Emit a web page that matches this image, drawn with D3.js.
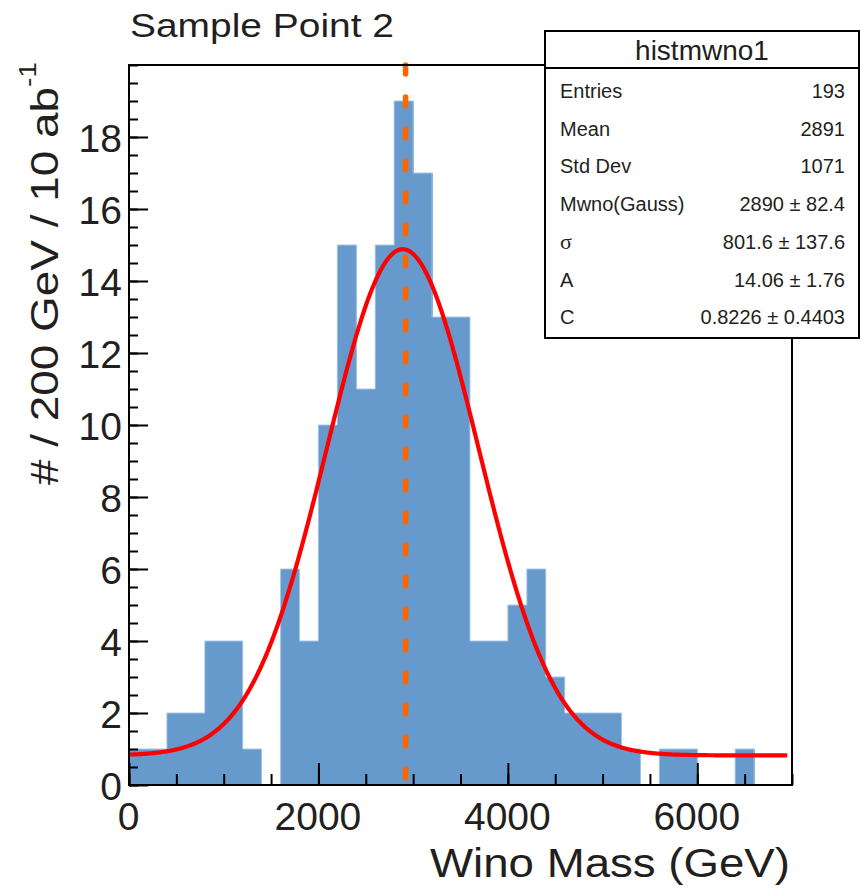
<!DOCTYPE html>
<html>
<head>
<meta charset="utf-8">
<script src="https://cdn.jsdelivr.net/npm/d3@7"></script>
<style>
  html, body { margin: 0; padding: 0; background: #fff; }
  svg { display: block; font-family: "Liberation Sans", Arial, Helvetica, sans-serif; }
</style>
</head>
<body>
<svg id="chart" width="861" height="891"></svg>
<script>
// ---------------- data ----------------
const binWidth = 200;
const binLow = d3.range(0, 7000, binWidth);
const counts = [1, 1, 2, 2, 4, 4, 1, 0, 6, 4,
                10, 15, 11, 15, 19, 17, 13, 13, 4, 4,
                5, 6, 3, 2, 2, 2, 1, 0, 1, 1,
                0, 0, 1, 0, 0];
// Gaussian + constant fit, parameters from the stats box
const fitMean = 2890, fitSigma = 801.6, fitA = 14.06, fitC = 0.8226;
// position of the orange dashed marker line
const markerX = 2920;
const xMajorTicks = [0, 2000, 4000, 6000];
const yMajorTicks = [0, 2, 4, 6, 8, 10, 12, 14, 16, 18];
const statLabels = ["Entries", "Mean", "Std Dev", "Mwno(Gauss)", "\u03c3", "A", "C"];
const statValues = ["193", "2891", "1071", "2890 \u00b1 82.4", "801.6 \u00b1 137.6", "14.06 \u00b1 1.76", "0.8226 \u00b1 0.4403"];
const histName = "histmwno1";
const titleText = "Sample Point 2";
const xTitle = "Wino Mass (GeV)";
const yTitle = "# / 200 GeV / 10 ab";
const yTitleSup = "-1";

// ---------------- layout ----------------
const svg = d3.select("#chart");
const L = 129, R = 792, T = 65, B = 785;
const x = d3.scaleLinear().domain([0, 7000]).range([L, R]);
const y = d3.scaleLinear().domain([0, 20]).range([B, T]);

// bars (filled, no seams)
const bins = binLow.map((lo, i) => ({lo, hi: lo + binWidth, n: counts[i]}));
svg.append("g").selectAll("rect").data(bins.filter(d => d.n > 0)).join("rect")
  .attr("x", d => x(d.lo))
  .attr("y", d => y(d.n))
  .attr("width", d => x(d.hi) - x(d.lo) + 0.5)
  .attr("height", d => y(0) - y(d.n))
  .attr("fill", "#6699cc")
  .attr("shape-rendering", "crispEdges");

// light outline of histogram (step path)
const stepPts = [];
bins.forEach(d => { stepPts.push([d.lo, d.n]); stepPts.push([d.hi, d.n]); });
svg.append("path")
  .datum(stepPts)
  .attr("d", d3.line().x(d => x(d[0])).y(d => y(d[1])))
  .attr("fill", "none")
  .attr("stroke", "#a9c6e4")
  .attr("stroke-width", 1);

// fit curve
const fitX = d3.range(0, 6955, 10);
const fitFn = v => fitA * Math.exp(-0.5 * Math.pow((v - fitMean) / fitSigma, 2)) + fitC;
svg.append("path")
  .datum(fitX)
  .attr("d", d3.line().x(d => x(d)).y(d => y(fitFn(d))))
  .attr("fill", "none")
  .attr("stroke", "#ff0000")
  .attr("stroke-width", 4.2);

// dashed marker line
svg.append("line")
  .attr("x1", x(markerX)).attr("x2", x(markerX))
  .attr("y1", y(20)).attr("y2", y(0))
  .attr("stroke", "#ff6600")
  .attr("stroke-width", 5.5)
  .attr("stroke-linecap", "round")
  .attr("stroke-dasharray", "9 23");

// axes ticks
const axStyle = g => {
  g.select(".domain").remove();
  g.selectAll("line").attr("stroke", "#000").attr("stroke-width", 2);
};
svg.append("g").attr("transform", `translate(0,${B})`)
  .call(d3.axisTop(x).tickValues(d3.range(0, 7001, 500)).tickSize(11).tickFormat(""))
  .call(axStyle);
svg.append("g").attr("transform", `translate(0,${B})`)
  .call(d3.axisTop(x).tickValues(xMajorTicks).tickSize(22).tickFormat(""))
  .call(axStyle);
svg.append("g").attr("transform", `translate(${L},0)`)
  .call(d3.axisRight(y).tickValues(d3.range(0, 20.01, 0.5)).tickSize(9).tickFormat(""))
  .call(axStyle);
svg.append("g").attr("transform", `translate(${L},0)`)
  .call(d3.axisRight(y).tickValues(yMajorTicks).tickSize(19).tickFormat(""))
  .call(axStyle);

// tick labels
const xl = svg.append("g").attr("transform", `translate(0,${B})`)
  .call(d3.axisBottom(x).tickValues(xMajorTicks).tickSize(0).tickPadding(0).tickFormat(d3.format("d")));
xl.select(".domain").remove();
xl.selectAll("text").attr("font-size", 39).attr("fill", "#231f20")
  .attr("font-family", "Liberation Sans, Arial, sans-serif")
  .attr("y", 45).attr("dy", null).attr("dx", -1);

const yl = svg.append("g").attr("transform", `translate(${L},0)`)
  .call(d3.axisLeft(y).tickValues(yMajorTicks).tickSize(0).tickPadding(7).tickFormat(d3.format("d")));
yl.select(".domain").remove();
yl.selectAll("text").attr("font-size", 39).attr("fill", "#231f20")
  .attr("font-family", "Liberation Sans, Arial, sans-serif")
  .attr("dy", "0.36em");

// frame
svg.append("rect")
  .attr("x", L).attr("y", T).attr("width", R - L).attr("height", B - T)
  .attr("fill", "none").attr("stroke", "#000").attr("stroke-width", 2);

// title
svg.append("text").attr("x", 130).attr("y", 37)
  .attr("font-size", 34).attr("fill", "#231f20")
  .attr("textLength", 264).attr("lengthAdjust", "spacingAndGlyphs")
  .text(titleText);

// x title
svg.append("text").attr("x", 790).attr("y", 877)
  .attr("text-anchor", "end")
  .attr("font-size", 40).attr("fill", "#231f20")
  .attr("textLength", 360).attr("lengthAdjust", "spacingAndGlyphs")
  .text(xTitle);

// y title (rotated)
svg.append("text").attr("transform", "translate(58,485) rotate(-90)")
  .attr("font-size", 38).attr("fill", "#231f20")
  .attr("textLength", 398).attr("lengthAdjust", "spacingAndGlyphs")
  .text(yTitle);
svg.append("text").attr("transform", "translate(36,87) rotate(-90)")
  .attr("font-size", 24).attr("fill", "#231f20")
  .attr("textLength", 25).attr("lengthAdjust", "spacingAndGlyphs")
  .text(yTitleSup);

// stats box
const sb = svg.append("g");
sb.append("rect").attr("x", 545).attr("y", 31).attr("width", 314).attr("height", 307)
  .attr("fill", "#fff").attr("stroke", "#000").attr("stroke-width", 2);
sb.append("line").attr("x1", 545).attr("x2", 859).attr("y1", 68).attr("y2", 68)
  .attr("stroke", "#000").attr("stroke-width", 2);
sb.append("text").attr("x", 702).attr("y", 60).attr("text-anchor", "middle")
  .attr("font-size", 28).attr("fill", "#231f20").text(histName);
sb.selectAll("text.lab").data(statLabels).join("text").attr("class", "lab")
  .attr("x", 560).attr("y", (d, i) => 98 + i * 37.7)
  .attr("font-size", d => d === "\u03c3" ? 22 : 20)
  .style("font-family", d => d === "\u03c3" ? "'Liberation Serif', 'DejaVu Serif', serif" : null)
  .attr("fill", "#231f20").text(d => d);
sb.selectAll("text.val").data(statValues).join("text").attr("class", "val")
  .attr("x", 845).attr("y", (d, i) => 98 + i * 37.7)
  .attr("text-anchor", "end")
  .attr("font-size", 20).attr("fill", "#231f20").text(d => d);
</script>
</body>
</html>
